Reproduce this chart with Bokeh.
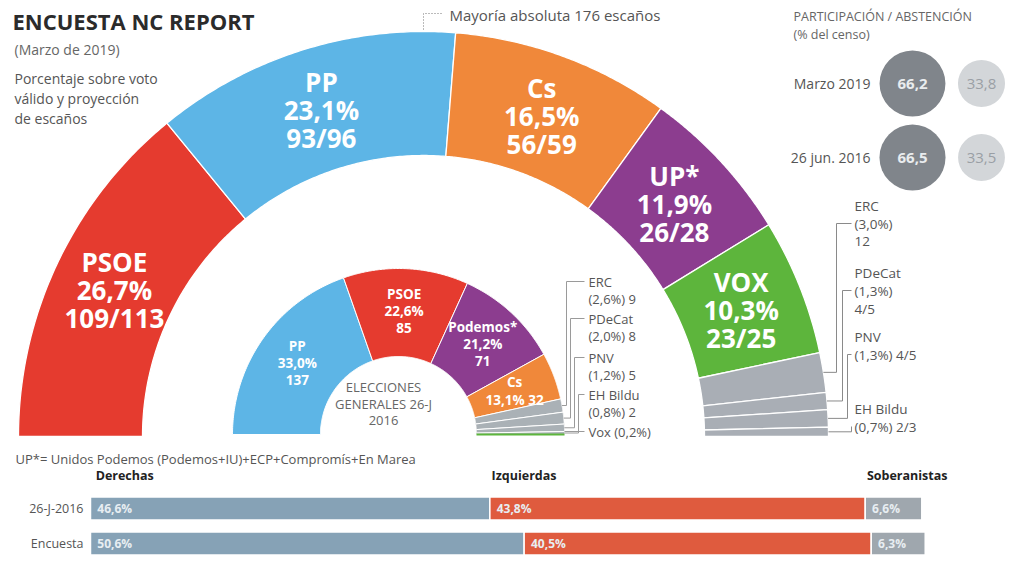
import numpy as np
from bokeh.plotting import figure
from bokeh.models import Range1d, ColumnDataSource
from bokeh.core.properties import value
from bokeh.embed import file_html
from bokeh.resources import INLINE

# ---------------- DATA ----------------
# Encuesta NC Report (Marzo 2019): outer hemicycle
enc_parties = ["PSOE", "PP", "Cs", "UP*", "VOX", "ERC", "PDeCat", "PNV", "EH Bildu"]
enc_share = [26.7, 23.1, 16.5, 11.9, 10.3, 3.0, 1.3, 1.3, 0.7]
enc_seats = ["109/113", "93/96", "56/59", "26/28", "23/25", "12", "4/5", "4/5", "2/3"]

# Elecciones generales 26-J 2016: inner hemicycle
el_parties = ["PP", "PSOE", "Podemos*", "Cs", "ERC", "PDeCat", "PNV", "EH Bildu", "Vox"]
el_share = [33.0, 22.6, 21.2, 13.1, 2.6, 2.0, 1.2, 0.8, 0.2]
el_seats = [137, 85, 71, 32, 9, 8, 5, 2, 0]

# Blocks
bloc_rows = ["26-J-2016", "Encuesta"]
bloc_names = ["Derechas", "Izquierdas", "Soberanistas"]
derechas = [46.6, 50.6]
izquierdas = [43.8, 40.5]
soberanistas = [6.6, 6.3]

# Participación / abstención
part_rows = ["Marzo 2019", "26 jun. 2016"]
participacion = [66.2, 66.5]
abstencion = [33.8, 33.5]

# ---------------- STYLE ----------------
FONT = value("Open Sans")
GREY_TXT = "#555555"
party_colors = {"PSOE": "#e53b2f", "PP": "#5db5e6", "Cs": "#f0883a", "UP*": "#8c3d8f",
                "Podemos*": "#8c3d8f", "VOX": "#5db53c", "Vox": "#5db53c"}
SMALL_GREY = "#a9aeb5"
bloc_colors = ["#86a2b6", "#df5b3e", "#9fa7ae"]


def fmt(v):
    return f"{v:.1f}".replace(".", ",") + "%"


p = figure(width=1008, height=560, x_range=Range1d(0, 1008), y_range=Range1d(560, 0),
           x_axis_type=None, y_axis_type=None, toolbar_location=None, min_border=0,
           output_backend="svg", title=None, outline_line_color=None,
           background_fill_color="white", border_fill_color="white")
p.grid.visible = False


def ring(cx, cy, r0, r1, a0, a1, n=90):
    t = np.radians(np.linspace(a0, a1, n))
    xo = cx + r1 * np.cos(t)
    yo = cy - r1 * np.sin(t)
    xi = cx + r0 * np.cos(t[::-1])
    yi = cy - r0 * np.sin(t[::-1])
    return list(np.concatenate([xo, xi])), list(np.concatenate([yo, yi]))


def add_text(xs, ys, texts, size, color, align="left", bold=False, baseline="middle"):
    src = ColumnDataSource(dict(x=xs, y=ys, t=texts))
    p.text("x", "y", text="t", source=src, text_font=FONT, text_font_size=size,
           text_color=color, text_align=align, text_baseline=baseline,
           text_font_style="bold" if bold else "normal")


# ---------------- OUTER HEMICYCLE ----------------
CX, CY, R0, R1 = 423, 436, 281, 405
tot = sum(enc_share)
xs, ys, cols, mids = [], [], [], []
cum = 0.0
for name, sh in zip(enc_parties, enc_share):
    a0 = 180 - cum / tot * 180
    a1 = 180 - (cum + sh) / tot * 180
    x, y = ring(CX, CY, R0, R1, a0, a1)
    xs.append(x); ys.append(y)
    cols.append(party_colors.get(name, SMALL_GREY))
    mids.append((a0 + a1) / 2)
    cum += sh
p.patches(xs, ys, fill_color=cols, line_color="white", line_width=1.3)

# labels for big parties
lx, ly, lt = [], [], []
for i in range(5):
    a = np.radians(mids[i])
    mx = CX + 342 * np.cos(a)
    my = CY - 342 * np.sin(a)
    for off, t in zip((-28, 0, 28), (enc_parties[i], fmt(enc_share[i]), enc_seats[i])):
        lx.append(mx); ly.append(my + off); lt.append(t)
add_text(lx, ly, lt, "26px", "white", align="center", bold=True)

# small parties (outer) with leader lines
small_lbl_y = [223, 290, 354, 426]
small_first_y = [205, 272, 336, 408]
vx = [836, 842, 847, 851]
for k, i in enumerate(range(5, 9)):
    a = np.radians(mids[i])
    ex, ey = CX + R1 * np.cos(a), CY - R1 * np.sin(a)
    p.line([ex, vx[k], vx[k], 851], [ey, ey, small_lbl_y[k], small_lbl_y[k]],
           line_color="#8a8a8a", line_width=1)
    name, sh, se = enc_parties[i], enc_share[i], enc_seats[i]
    if k < 2:
        lines = [name, "(" + fmt(sh) + ")", se]
    else:
        lines = [name, "(" + fmt(sh) + ") " + se]
    add_text([854] * len(lines), [small_first_y[k] + 18 * j for j in range(len(lines))],
             lines, "13.5px", GREY_TXT)

# Mayoría absoluta
p.line([CX, CX, 441], [CY - R1 - 2, 13, 13], line_color="#777777", line_width=1, line_dash="1 2")
add_text([449], [14], ["Mayoría absoluta 176 escaños"], "15px", GREY_TXT)

# ---------------- INNER HEMICYCLE ----------------
cx2, cy2, r0, r1 = 398, 434, 78, 166
tot2 = sum(el_seats)
xs, ys, cols, mids2 = [], [], [], []
cum = 0.0
for name, se in zip(el_parties, el_seats):
    a0 = 180 - cum / tot2 * 180
    a1 = 180 - (cum + se) / tot2 * 180
    mids2.append((a0 + a1) / 2)
    cum += se
    if se == 0:
        continue
    x, y = ring(cx2, cy2, r0, r1, a0, a1)
    xs.append(x); ys.append(y)
    cols.append(party_colors.get(name, "#aab1b6"))
p.patches(xs, ys, fill_color=cols, line_color="white", line_width=1.0)
# Vox 0 seats: thin line on the baseline
p.line([cx2 + r0, cx2 + r1], [cy2, cy2], line_color=party_colors["Vox"], line_width=2)

lx, ly, lt = [], [], []
for i in range(4):
    a = np.radians(mids2[i])
    mx = cx2 + 124 * np.cos(a)
    my = cy2 - 124 * np.sin(a)
    if el_parties[i] == "Cs":
        lines = [el_parties[i], fmt(el_share[i]) + " " + str(el_seats[i])]
        offs = (-9, 9)
    else:
        lines = [el_parties[i], fmt(el_share[i]), str(el_seats[i])]
        offs = (-17, 0, 17)
    for off, t in zip(offs, lines):
        lx.append(mx); ly.append(my + off); lt.append(t)
add_text(lx, ly, lt, "13.5px", "white", align="center", bold=True)

add_text([383, 383, 383], [386, 403, 420], ["ELECCIONES", "GENERALES 26-J", "2016"],
         "13px", "#666666", align="center")

in_first_y = [281, 318, 357, 394, 431]
in_vx = [566, 570, 574, 578]
for k, i in enumerate(range(4, 9)):
    a = np.radians(mids2[i])
    ex, ey = cx2 + r1 * np.cos(a), cy2 - r1 * np.sin(a)
    ty = in_first_y[k]
    if k < 4:
        p.line([ex, in_vx[k], in_vx[k], 584], [ey, ey, ty, ty], line_color="#9a9a9a", line_width=1)
        lines = [el_parties[i], "(" + fmt(el_share[i]) + ") " + str(el_seats[i])]
    else:
        p.line([cx2 + r1, 584], [ty, ty], line_color="#9a9a9a", line_width=1)
        lines = [el_parties[i] + " (" + fmt(el_share[i]) + ")"]
    add_text([588] * len(lines), [ty + 17 * j for j in range(len(lines))], lines, "13px", GREY_TXT)

# ---------------- TITLES ----------------
add_text([12], [20], ["ENCUESTA NC REPORT"], "22px", "#2b2b2b", bold=True)
add_text([14], [49], ["(Marzo de 2019)"], "14px", "#666666")
add_text([14, 14, 14], [78, 98, 118], ["Porcentaje sobre voto", "válido y proyección", "de escaños"],
         "14px", GREY_TXT)

# ---------------- PARTICIPACIÓN ----------------
add_text([793, 793], [16, 34], ["PARTICIPACIÓN / ABSTENCIÓN", "(% del censo)"], "12.5px", "#666666")
row_y = [83, 157]
K = 4.05
p.circle(x=[912, 912], y=row_y, radius=[K * np.sqrt(v) for v in participacion],
         fill_color="#80858b", line_color=None)
p.circle(x=[981, 981], y=row_y, radius=[K * np.sqrt(v) for v in abstencion],
         fill_color="#d3d6d9", line_color=None)
add_text([912, 912], row_y, [f"{v:.1f}".replace(".", ",") for v in participacion], "15px",
         "#e9ecee", align="center", bold=True)
add_text([981, 981], row_y, [f"{v:.1f}".replace(".", ",") for v in abstencion], "15px",
         "#9a9fa5", align="center")
add_text([870, 870], row_y, part_rows, "14px", GREY_TXT, align="right")

# ---------------- FOOTNOTE ----------------
add_text([15], [458], ["UP*= Unidos Podemos (Podemos+IU)+ECP+Compromís+En Marea"], "13px", GREY_TXT)

# ---------------- BLOC BARS ----------------
PX_PER = 8.57
X0 = 90
p.extra_x_ranges = {"pct": Range1d(start=(0 - X0) / PX_PER, end=(1008 - X0) / PX_PER)}
bar_y = [508, 543]
blocs = [derechas, izquierdas, soberanistas]
lefts = [0.0, 0.0]
for b, vals in enumerate(blocs):
    rights = [l + v for l, v in zip(lefts, vals)]
    p.hbar(y=bar_y, left=lefts, right=rights, height=23, x_range_name="pct",
           fill_color=bloc_colors[b], line_color="white", line_width=1.5)
    src = ColumnDataSource(dict(x=[l + 0.8 for l in lefts], y=bar_y, t=[fmt(v) for v in vals]))
    p.text("x", "y", text="t", source=src, x_range_name="pct", text_font=FONT,
           text_font_size="12px", text_color="#e8eef2", text_font_style="bold",
           text_baseline="middle", text_align="left")
    hsrc = ColumnDataSource(dict(x=[lefts[0] + (0.6 if b == 0 else 0.2)], y=[475], t=[bloc_names[b]]))
    p.text("x", "y", text="t", source=hsrc, x_range_name="pct", text_font=FONT,
           text_font_size="12.5px", text_color="#222222", text_font_style="bold",
           text_baseline="middle", text_align="left")
    lefts = rights
add_text([83, 83], bar_y, bloc_rows, "12.5px", GREY_TXT, align="right")

open("out.html", "w").write(file_html(p, INLINE))
